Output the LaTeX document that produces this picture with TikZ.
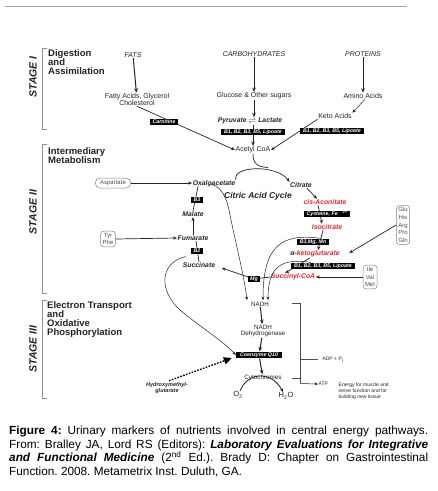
\documentclass[tikz,border=0pt]{standalone}
\usepackage{fontspec}
\setmainfont{Liberation Sans}
\usetikzlibrary{arrows.meta,calc}
\definecolor{dred}{RGB}{215,40,45}
\definecolor{ink}{RGB}{35,35,35}
\frenchspacing
\begin{document}
\begin{tikzpicture}[x=1pt,y=-1pt,
 every node/.style={inner sep=0.5pt, text=ink},
 lab/.style={font=\fontsize{7}{7}\selectfont},
 smalllab/.style={font=\fontsize{6.3}{6.7}\selectfont},
 ital/.style={font=\fontsize{7}{8}\selectfont\itshape},
 bi/.style={font=\fontsize{6.8}{8}\selectfont\bfseries\itshape},
 rd/.style={bi, text=dred},
 head/.style={font=\fontsize{9.5}{9}\selectfont\bfseries, align=left, anchor=north west, inner sep=0pt},
 stagelab/.style={font=\fontsize{10.5}{12}\selectfont\bfseries\itshape, rotate=90},
 blk/.style={fill=black, text=white, font=\fontsize{5.3}{6}\selectfont\bfseries\itshape, inner xsep=3pt, inner ysep=0.6pt, minimum height=6.8pt},
 rbox/.style={draw=gray, rounded corners=3pt, font=\fontsize{6}{7.6}\selectfont, text=black!70, align=center, inner sep=2pt, line width=0.5pt},
 arr/.style={-{Stealth[length=4.5pt,width=3.6pt]}, line width=1pt, draw=ink},
 mid/.style={-{Stealth[length=4pt,width=3.2pt]}, line width=0.7pt, draw=ink},
 thinarr/.style={-{Stealth[length=3.5pt,width=3pt]}, line width=0.5pt, draw=ink},
 plain/.style={line width=0.7pt, draw=ink},
 brk/.style={draw=gray!85, line width=0.7pt},
]
\useasboundingbox (0,0) rectangle (438,491);

% top rule
\draw[gray!70, line width=0.8pt] (5,6) -- (407,6);

% stage brackets
\draw[brk] (47,48) -- (42,48) -- (42,129) -- (47,129);
\draw[brk] (47,144) -- (42,144) -- (42,293) -- (47,293);
\draw[brk] (47,300) -- (42,300) -- (42,398) -- (47,398);
\node[stagelab] (s1) at (33,77) {STAGE I};
\node[stagelab] (s2) at (33,212) {STAGE II};
\node[stagelab] (s3) at (33,349) {STAGE III};

\node[head] (h1) at (48,49.5) {Digestion\\and\\Assimilation};
\node[head] (h2) at (48,147.5) {Intermediary\\Metabolism};
\node[head] (h3) at (47,301.5) {Electron Transport\\and\\Oxidative\\Phosphorylation};

% stage I
\node[ital] (fats) at (133,55) {FATS};
\node[ital] (carb) at (254,54) {CARBOHYDRATES};
\node[ital] (prot) at (363,54) {PROTEINS};
\node[lab, align=center] (fatty) at (137,99.5) {Fatty Acids, Glycerol\\Cholesterol};
\node[lab] (gluc) at (254,96) {Glucose \& Other sugars};
\node[lab] (amino) at (363,96) {Amino Acids};
\node[bi] (pyr) at (250,121) {Pyruvate \(\rightleftharpoons\) Lactate};
\node[lab] (keto) at (335,116) {Keto Acids};
\node[lab] (acetyl) at (253,150) {Acetyl CoA};

\draw[arr] (fats) -- (fatty);
\draw[arr] (carb) -- (gluc);
\draw[arr] (prot) -- (amino);
\draw[arr] (gluc) -- (gluc |- pyr.north);
\draw[thinarr] ($(amino.south)+(2,0)$) -- (keto.north east);
\draw[mid] (fatty.south) -- (acetyl.west);
\draw[mid] (keto.south west) -- (acetyl.east);
\draw[arr] (acetyl.north |- pyr.south) -- (acetyl.north);

\node[blk] (carn) at (164,122) {Carnitine};
\node[blk] (bb1) at (253,132) {B1, B2, B3, B5, Lipoate};
\node[blk] (bb2) at (332,131) {B1, B2, B3, B5, Lipoate};

% stage II
\node[bi] (oxalo) at (214,183) {Oxaloacetate};
\node[bi] (citrate) at (301,185) {Citrate};
\node[font=\fontsize{8.5}{9}\selectfont\bfseries\itshape] (cac) at (258,196) {Citric Acid Cycle};
\node[rd] (cisacon) at (325,202) {cis-Aconitate};
\node[rd] (isocit) at (327,227) {Isocitrate};
\node[bi] (akg) at (315,254) {α-\textcolor{dred}{ketoglutarate}};
\node[rd] (succoa) at (293,277) {Succinyl-CoA};
\node[rbox, rounded corners=5pt, inner xsep=5pt, minimum height=10pt] (asp) at (113,183) {Aspartate};
\node[bi] (malate) at (193,214) {Malate};
\node[rbox] (tyr) at (108,239) {Tyr\\Phe};
\node[bi] (fum) at (193,238) {Fumarate};
\node[bi] (succ) at (199,265) {Succinate};
\node[rbox] (glu) at (403,225) {Glu\\His\\Arg\\Pro\\Gln};
\node[rbox] (ile) at (370,277) {Ile\\Val\\Met};

\draw[mid] (oxalo.north east) .. controls (232,166) and (276,164) .. (citrate.north west);
\draw[plain] (acetyl.south) .. controls (253,164) and (258,167) .. (268,167.5);
\draw[mid] ($(citrate.south)+(6,0)$) -- ($(cisacon.north)+(-8,0)$);
\draw[mid] ($(cisacon.south)+(-7,0)$) -- ($(isocit.north)+(-5,0)$);
\draw[mid] ($(isocit.south)+(-4,0)$) -- ($(akg.north)+(3,0)$);
\draw[mid] ($(akg.south)+(-5,0)$) -- ($(succoa.north)+(-8,0)$);
\draw[mid] (asp.east) -- (oxalo.west);
\draw[plain] (malate.north) -- ($(oxalo.south west)+(6,0)$);
\draw[mid] (fum.north) -- (malate.south);
\draw[mid] (tyr.east) -- (fum.west);
\draw[plain] (succ.north) -- ($(fum.south)+(3,0)$);
\draw[mid] (glu.west) -- ($(akg.east)+(9,-1)$);
\draw[mid] (ile.west) -- (succoa.east);
\draw[mid] (succoa.west) -- (254,279) -- ($(succ.east)+(6,3)$);

\node[blk] (b3) at (197,200) {B3};
\node[blk] (b2) at (197,251) {B2};
\node[blk] (cys) at (327,214) {Cysteine, Fe\hspace{5pt}\textsuperscript{2+}};
\node[blk] (b3mg) at (313,242) {B3,Mg, Mn};
\node[blk] (bb3) at (323,266) {B1, B2, B3, B5, Lipoate};
\node[blk, inner xsep=2pt] (mg) at (254,279) {Mg};

% stage III
\node[smalllab] (nadh) at (260,304) {NADH};
\node[smalllab, align=center] (ndh) at (263,331) {NADH\\Dehydrogenase};
\node[blk, inner xsep=4pt] (coq) at (259,355) {Coenzyme Q10};
\node[smalllab] (cyto) at (263,378) {Cytochromes};
\node[font=\fontsize{7.5}{8}\selectfont] (o2) at (238,395) {O\textsubscript{2}};
\node[font=\fontsize{7.5}{8}\selectfont] (h2o) at (286,396) {H\textsubscript{2}O};
\node[font=\fontsize{5.5}{6}\selectfont\bfseries\itshape, align=center] (hmg) at (167,388) {Hydroxymethyl-\\glutarate};
\node[font=\fontsize{5}{6}\selectfont] (adp) at (333,360) {ADP + P\textsubscript{i}};
\node[font=\fontsize{5}{6}\selectfont, anchor=west] (atp) at (318,384) {ATP};
\node[font=\fontsize{5}{6}\selectfont, align=left, anchor=north west] (energy) at (338,382) {Energy for muscle and\\nerve function and for\\building new tissue};

\draw[arr] (nadh) -- (ndh);
\draw[arr] (ndh) -- (coq);
\draw[arr] (coq) -- (cyto);
\draw[thinarr, line width=0.8pt] ($(o2.north)+(2,0)$) .. controls (248,371) and (272,371) .. ($(h2o.north)+(-3,0)$);

\draw[thinarr] ($(oxalo.south west)+(16,0)$) .. controls (214,181) and (225,190) .. (229,210) .. controls (236,245) and (244,275) .. ($(nadh.north)+(-13,-1)$);
\draw[thinarr] ($(b3mg.north)+(8,0)$) .. controls (282,233) and (263,245) .. ($(nadh.north)+(3,-1)$);
\draw[thinarr] ($(bb3.north west)+(20,0)$) .. controls (282,258) and (268,266) .. ($(nadh.north)+(8,-1)$);
\draw[thinarr] ($(b2.south)+(-11,2)$) .. controls (160,262) and (158,290) .. (180,310) .. controls (200,327) and (222,340) .. (coq.west);
\draw[line width=1.4pt, dash pattern=on 1.6pt off 1.4pt, -{Triangle[length=8pt,width=7pt]}] ($(hmg.north)+(2,-1)$) -- ($(coq.west)+(-4,3)$);

\draw[brk, draw=ink!80] (292,303) -- (300,303) -- (300,383);
\draw[brk, draw=ink!80] (292,378) -- (300,378);
\draw[brk, draw=ink!80] (300,359) -- (318,359);
\draw[thinarr] (300,383.5) -- (atp.west);

% caption
\node[anchor=north west, inner sep=0pt, text width=419pt, align=justify, font=\fontsize{11.8}{13.9}\selectfont, text=black] (cap) at (9,425.4) {\textbf{Figure 4:} Urinary markers of nutrients involved in central energy pathways.\linebreak From: Bralley JA, Lord RS (Editors): \textbf{\textit{Laboratory Evaluations for Integrative}\linebreak \textit{and Functional Medicine}} (2\textsuperscript{nd} Ed.). Brady D: Chapter on Gastrointestinal\linebreak Function. 2008. Metametrix Inst. Duluth, GA.};
\end{tikzpicture}
\end{document}
